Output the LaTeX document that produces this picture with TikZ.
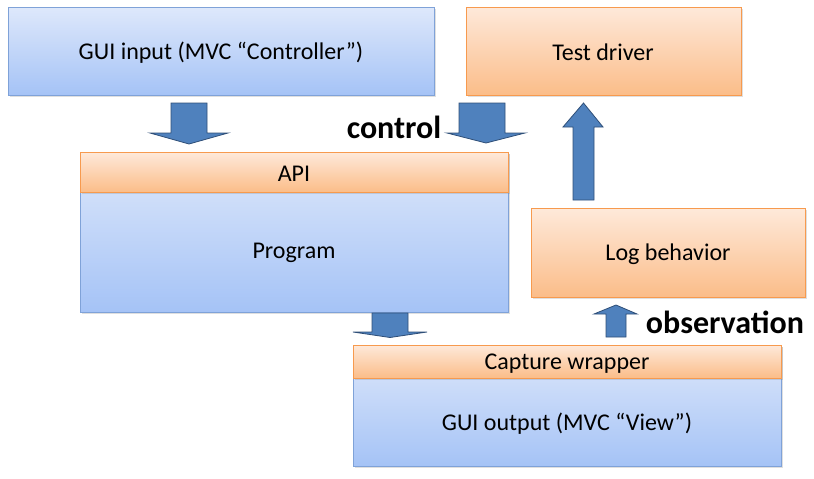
\documentclass[tikz,border=0pt]{standalone}
\usepackage{fontspec}
\setmainfont{Carlito}
\usetikzlibrary{shadows}
\definecolor{bluetop}{HTML}{DEE8FB}
\definecolor{bluebot}{HTML}{A5C3F6}
\definecolor{blueline}{HTML}{7FA2D8}
\definecolor{orgtop}{HTML}{FEE9DA}
\definecolor{orgbot}{HTML}{FBBD89}
\definecolor{orgline}{HTML}{F79A4E}
\definecolor{arrfill}{HTML}{4F81BD}
\definecolor{arrline}{HTML}{2F4F78}
\tikzset{
  bluebox/.style={draw=blueline, line width=0.9pt, top color=bluetop, bottom color=bluebot,
    drop shadow={shadow xshift=1.5pt, shadow yshift=-1.5pt, opacity=0.25}},
  orgbox/.style={draw=orgline, line width=0.9pt, top color=orgtop, bottom color=orgbot,
    drop shadow={shadow xshift=1.5pt, shadow yshift=-1.5pt, opacity=0.25}},
  lbl/.style={font=\fontsize{24}{28}\selectfont, text=black},
  biglbl/.style={font=\fontsize{32}{38}\selectfont\bfseries, text=black},
  blockarrow/.style={fill=arrfill, draw=arrline, line width=0.8pt, line join=miter}
}
\begin{document}
\begin{tikzpicture}[x=1pt,y=-1pt]
\useasboundingbox (0,0) rectangle (814,479);
% boxes
\path[bluebox] (8,7) rectangle (434,95);
\node[lbl] (guiin) at (221,52.5) {GUI input (MVC “Controller”)};
\path[orgbox] (466,7) rectangle (741,95);
\node[lbl] (test) at (603,52.5) {Test driver};
\path[bluebox] (80,152) rectangle (508,312);
\path[orgbox] (80,152) rectangle (508,192);
\node[lbl] (api) at (294,173.5) {API};
\node[lbl] (prog) at (294,252.5) {Program};
\path[orgbox] (531,208) rectangle (805,297);
\node[lbl] (log) at (668,254.5) {Log behavior};
\path[bluebox] (353,345) rectangle (781,466);
\path[orgbox] (353,345) rectangle (781,378);
\node[lbl] (cap) at (567,363.5) {Capture wrapper};
\node[lbl] (guiout) at (567,423.5) {GUI output (MVC “View”)};
% block arrows
\draw[blockarrow] (171,103) -- (207,103) -- (207,133) -- (228,133) -- (189,144) -- (150,133) -- (171,133) -- cycle;
\draw[blockarrow] (459,103) -- (505,103) -- (505,133) -- (525,133) -- (486,143) -- (447,133) -- (459,133) -- cycle;
\draw[blockarrow] (573,200) -- (594,200) -- (594,127) -- (603,127) -- (583.5,103) -- (563,127) -- (573,127) -- cycle;
\draw[blockarrow] (372,313) -- (408,313) -- (408,332) -- (427,332) -- (390,337.5) -- (353,332) -- (372,332) -- cycle;
\draw[blockarrow] (606,337) -- (626,337) -- (626,314) -- (637,314) -- (616,305) -- (594,314) -- (606,314) -- cycle;
% labels
\node[biglbl] (ctrl) at (394,127) {control};
\node[biglbl] (obs) at (725,322) {observation};
\end{tikzpicture}
\end{document}
